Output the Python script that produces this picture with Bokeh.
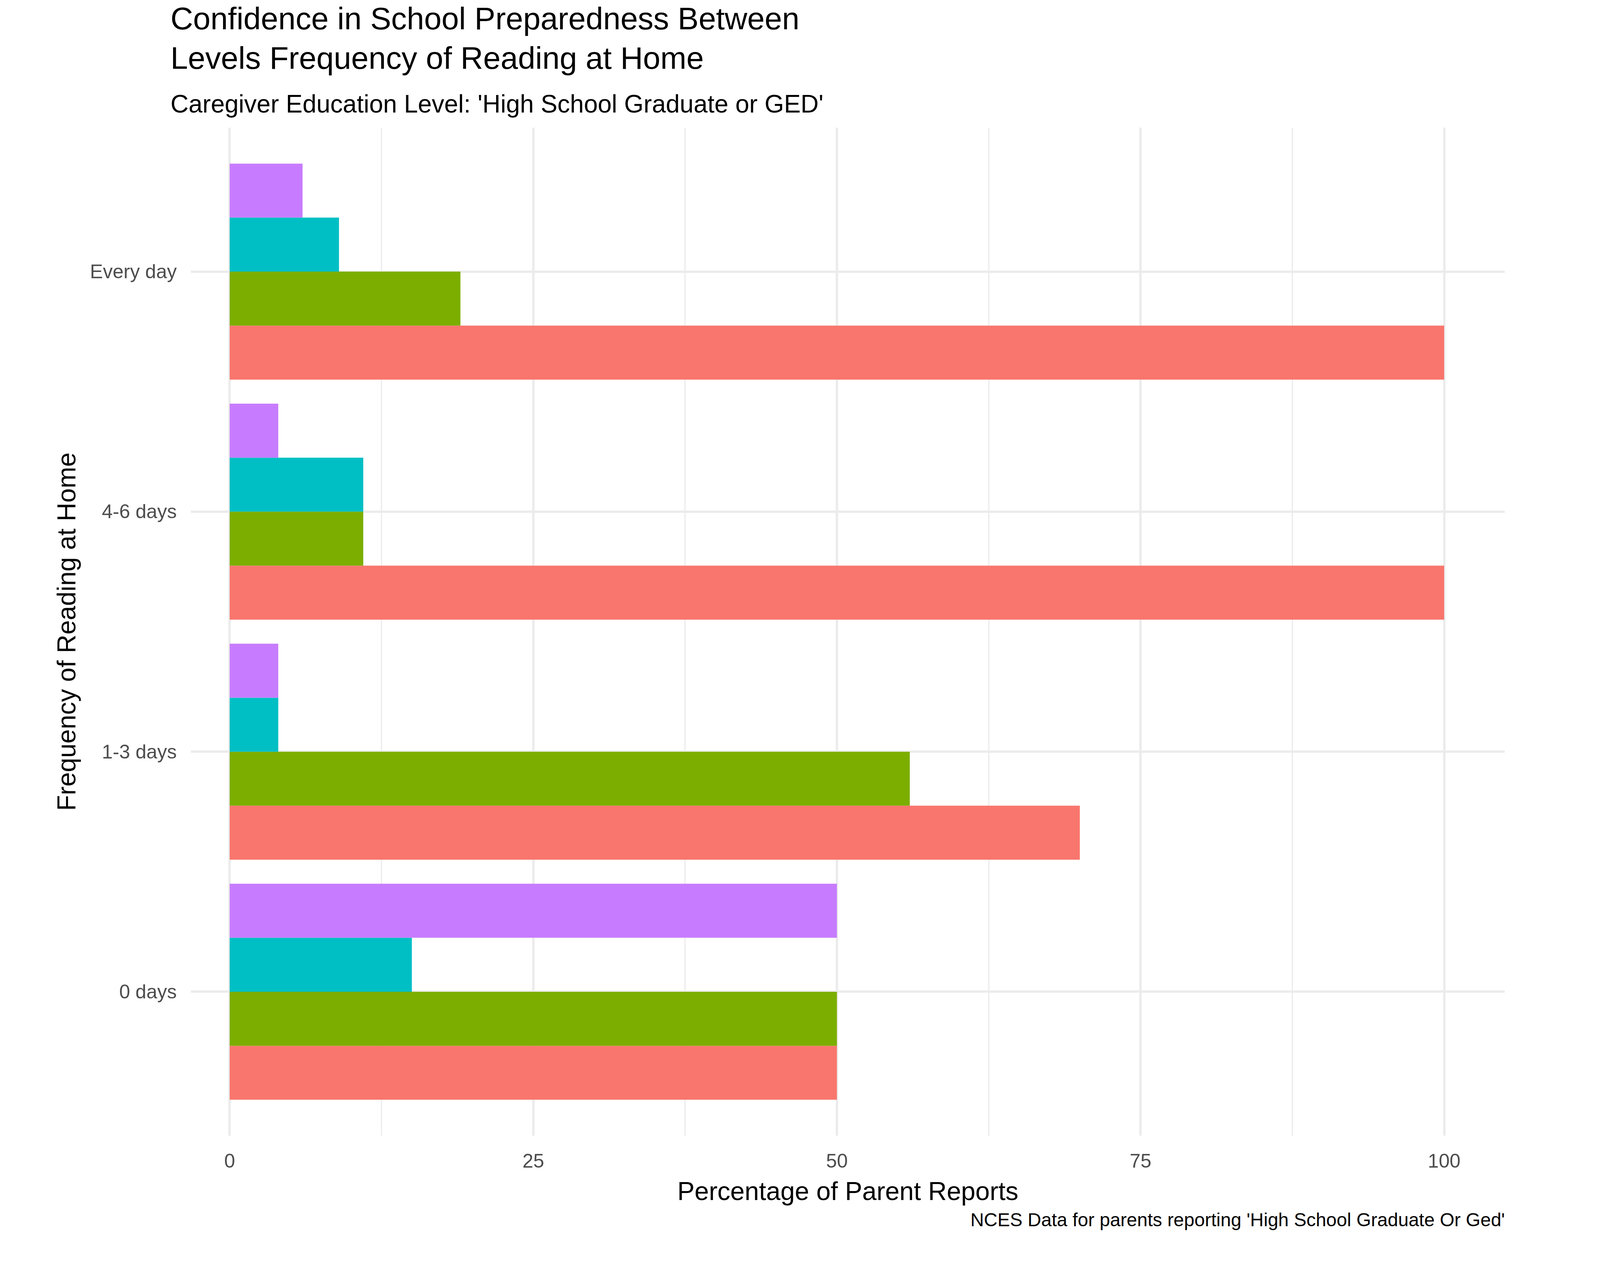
from bokeh.plotting import figure
from bokeh.models import FixedTicker, Title, Legend, LegendItem, Range1d
from bokeh.embed import file_html
from bokeh.resources import INLINE

freq = ["0 days", "1-3 days", "4-6 days", "Every day"]
levels = ["Completely confident", "Mostly confident", "Somewhat confident", "Not at all confident"]
colors = ["#F8766D", "#7CAE00", "#00BFC4", "#C77CFF"]
completely = [50, 70, 100, 100]
mostly = [50, 56, 11, 19]
somewhat = [15, 4, 11, 9]
not_at_all = [50, 4, 4, 6]
series = [completely, mostly, somewhat, not_at_all]

S = 3.05
FONT = "Liberation Sans"

p = figure(frame_width=int(1103 * S), frame_height=int(846 * S),
           output_backend="svg", toolbar_location=None,
           x_range=Range1d(-3.2, 105), y_range=Range1d(0.4, 4.6),
           min_border_left=int(160 * S), min_border_right=20,
           min_border_bottom=20, min_border_top=20)
p.outline_line_color = None
p.background_fill_color = "white"

offsets = [-0.3375, -0.1125, 0.1125, 0.3375]
items = []
for vals, off, col, lab in zip(series, offsets, colors, levels):
    r = p.hbar(y=[i + 1 + off for i in range(4)], right=vals, left=0, height=0.225,
               fill_color=col, line_color=None)
    items.append(LegendItem(label=lab, renderers=[r]))

p.xaxis.ticker = FixedTicker(ticks=[0, 25, 50, 75, 100], minor_ticks=[12.5, 37.5, 62.5, 87.5])
p.yaxis.ticker = FixedTicker(ticks=[1, 2, 3, 4])
p.yaxis.major_label_overrides = {i + 1: f for i, f in enumerate(freq)}
for ax in (p.xaxis, p.yaxis):
    ax.axis_line_color = None
    ax.major_tick_line_color = None
    ax.minor_tick_line_color = None
    ax.major_label_text_font = FONT
    ax.major_label_text_font_size = "50px"
    ax.major_label_text_color = "#4d4d4d"
    ax.axis_label_text_font = FONT
    ax.axis_label_text_font_size = "66px"
    ax.axis_label_text_font_style = "normal"
    ax.axis_label_text_color = "black"
p.xaxis.axis_label = "Percentage of Parent Reports"
p.yaxis.axis_label = "Frequency of Reading at Home"
p.xaxis.major_label_standoff = 40
p.yaxis.major_label_standoff = 30
p.xaxis.axis_label_standoff = 20
p.yaxis.axis_label_standoff = 20
p.xgrid.grid_line_color = "#ebebeb"
p.xgrid.grid_line_width = 6
p.xgrid.minor_grid_line_color = "#ebebeb"
p.xgrid.minor_grid_line_width = 3
p.ygrid.grid_line_color = "#ebebeb"
p.ygrid.grid_line_width = 6

p.title.text = ""
for txt, size, sb in [("Caregiver Education Level: 'High School Graduate or GED'", "64px", 50),
                      ("Levels Frequency of Reading at Home", "80px", 20),
                      ("Confidence in School Preparedness Between", "80px", 0)]:
    p.add_layout(Title(text=txt, align="left", offset=-52, text_font=FONT,
                       text_font_size=size, text_font_style="normal",
                       text_color="black", standoff=sb), "above")
p.add_layout(Title(text="NCES Data for parents reporting 'High School Graduate Or Ged'",
                   align="right", text_font=FONT, text_font_size="48px",
                   text_font_style="normal", text_color="black"), "below")

legend = Legend(items=items, title="confident", location="center",
                title_text_font=FONT, title_text_font_size="66px",
                label_text_font=FONT, label_text_font_size="54px",
                glyph_width=107, glyph_height=107, label_height=107,
                spacing=15, padding=0, margin=120, border_line_color=None,
                background_fill_alpha=0, title_standoff=30, label_standoff=45)
p.add_layout(legend, "right")

open("out.html", "w").write(file_html(p, INLINE))
